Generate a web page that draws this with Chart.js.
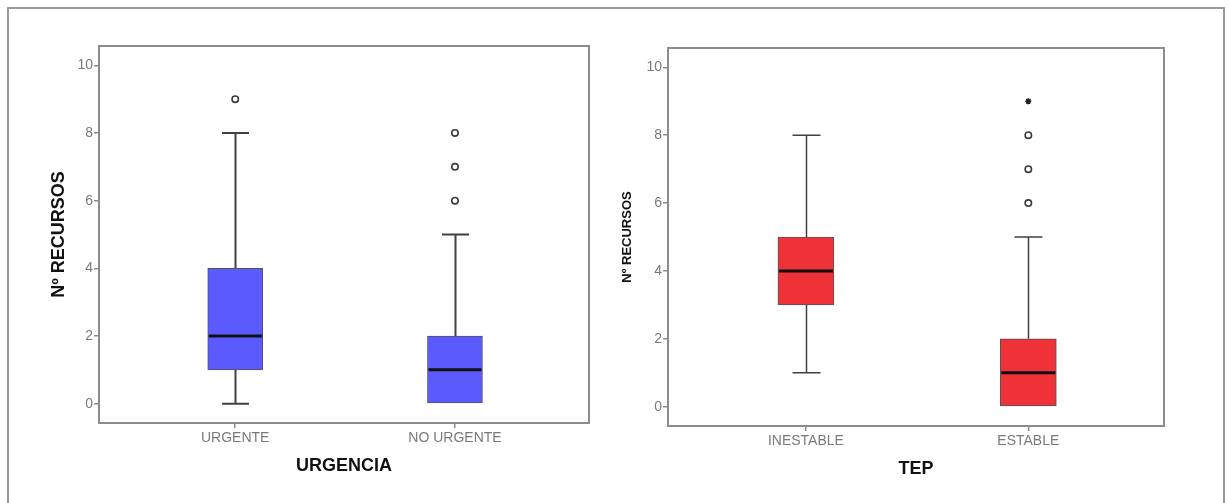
<!DOCTYPE html>
<html>
<head>
<meta charset="utf-8">
<script src="https://cdn.jsdelivr.net/npm/chart.js@4.4.0/dist/chart.umd.min.js"></script>
<style>
    html, body { margin: 0; padding: 0; background: #fff; }
    body { width: 1230px; height: 503px; overflow: hidden; position: relative; font-family: "Liberation Sans", Arial, sans-serif; }
    .marco { position: absolute; left: 7px; top: 7px; width: 1218px; height: 600px; border: 2px solid #9c9c9c; box-sizing: border-box; }
    canvas { position: absolute; top: 0; }
    #chartUrgencia { left: 0; }
    #chartTep { left: 610px; }
</style>
</head>
<body>
<div class="marco"></div>
<canvas id="chartUrgencia" width="610" height="503"></canvas>
<canvas id="chartTep" width="620" height="503"></canvas>

<script>
/* ===================================
   Diagramas de caja - Nº RECURSOS
   =================================== */

// --- URGENCIA ---
const categoriasUrgencia = ['URGENTE', 'NO URGENTE'];
const minUrgencia = [0, 0];
const q1Urgencia = [1, 0];
const medianaUrgencia = [2, 1];
const q3Urgencia = [4, 2];
const maxUrgencia = [8, 5];
const atipicosUrgencia = [[9], [6, 7, 8]];
const extremosUrgencia = [[], []];

// --- TEP ---
const categoriasTep = ['INESTABLE', 'ESTABLE'];
const minTep = [1, 0];
const q1Tep = [3, 0];
const medianaTep = [4, 1];
const q3Tep = [5, 2];
const maxTep = [8, 5];
const atipicosTep = [[], [6, 7, 8]];
const extremosTep = [[], [9]];

const ticksY = [0, 2, 4, 6, 8, 10];

const GRIS_TEXTO = '#7a7a7a';
const GRIS_EJE = '#8c8c8c';
const FUENTE = '"Liberation Sans", Arial, sans-serif';

// whiskers + caps (behind boxes), medians (on top), and the plot frame
const cajaPlugin = {
    id: 'cajaPlugin',
    beforeDatasetsDraw(chart) {
        const opts = chart.options.plugins.cajaPlugin;
        const { ctx, scales: { x, y } } = chart;
        ctx.save();
        ctx.strokeStyle = '#404040';
        ctx.lineWidth = opts.anchoBigote;
        opts.min.forEach((v, i) => {
            const px = Math.round(x.getPixelForValue(i)) + 0.5;
            const half = opts.anchoTope / 2;
            const pMin = y.getPixelForValue(opts.min[i]);
            const pQ1 = y.getPixelForValue(opts.q1[i]);
            const pQ3 = y.getPixelForValue(opts.q3[i]);
            const pMax = y.getPixelForValue(opts.max[i]);
            ctx.beginPath();
            ctx.moveTo(px, pQ3); ctx.lineTo(px, pMax);
            ctx.moveTo(px - half, pMax); ctx.lineTo(px + half, pMax);
            if (opts.min[i] < opts.q1[i]) {
                ctx.moveTo(px, pQ1); ctx.lineTo(px, pMin);
                ctx.moveTo(px - half, pMin); ctx.lineTo(px + half, pMin);
            }
            ctx.stroke();
        });
        ctx.restore();
    },
    afterDatasetsDraw(chart) {
        const opts = chart.options.plugins.cajaPlugin;
        const { ctx, chartArea, scales: { x, y } } = chart;
        ctx.save();
        ctx.strokeStyle = '#111';
        ctx.lineWidth = 3;
        opts.mediana.forEach((v, i) => {
            const px = x.getPixelForValue(i);
            const py = y.getPixelForValue(v);
            ctx.beginPath();
            ctx.moveTo(px - opts.anchoCaja / 2 + 1, py);
            ctx.lineTo(px + opts.anchoCaja / 2 - 1, py);
            ctx.stroke();
        });
        ctx.strokeStyle = GRIS_EJE;
        ctx.lineWidth = 2;
        ctx.strokeRect(chartArea.left, chartArea.top, chartArea.right - chartArea.left, chartArea.bottom - chartArea.top);
        ctx.restore();
    }
};

function puntos(lista) {
    const out = [];
    lista.forEach((vals, i) => vals.forEach(v => out.push({ x: i, y: v })));
    return out;
}

function crearCaja(id, d) {
    const ctx = document.getElementById(id);
    return new Chart(ctx, {
        type: 'bar',
        data: {
            datasets: [{
                data: d.categorias.map((c, i) => ({ x: i, y: [d.q1[i], d.q3[i]] })),
                backgroundColor: d.color,
                borderColor: '#555',
                borderWidth: 1,
                borderSkipped: false,
                barThickness: d.anchoCaja
            }, {
                type: 'line',
                data: puntos(d.atipicos),
                showLine: false,
                pointStyle: 'circle',
                pointRadius: 3.2,
                pointBorderWidth: 1.6,
                pointBorderColor: '#3a3a3a',
                pointBackgroundColor: '#fff'
            }, {
                type: 'line',
                data: puntos(d.extremos),
                showLine: false,
                pointStyle: 'star',
                pointRadius: 3,
                pointBorderWidth: 1.5,
                pointBorderColor: '#222'
            }]
        },
        options: {
            responsive: false,
            animation: false,
            layout: { padding: d.padding },
            plugins: {
                legend: { display: false },
                tooltip: { enabled: false },
                cajaPlugin: {
                    min: d.min, q1: d.q1, mediana: d.mediana, q3: d.q3, max: d.max,
                    anchoCaja: d.anchoCaja, anchoTope: d.anchoTope, anchoBigote: d.anchoBigote
                }
            },
            scales: {
                x: {
                    type: 'linear',
                    offset: false,
                    min: -0.62,
                    max: 1.61,
                    afterBuildTicks: (scale) => { scale.ticks = d.categorias.map((c, i) => ({ value: i })); },
                    afterFit: (scale) => { scale.height = d.altoX; },
                    ticks: {
                        callback: (value) => d.categorias[value],
                        color: GRIS_TEXTO,
                        font: { family: FUENTE, size: 14 },
                        padding: 2,
                        maxRotation: 0
                    },
                    grid: { offset: false, drawOnChartArea: false, tickLength: 5, color: GRIS_EJE, lineWidth: 1.5 },
                    border: { display: false },
                    title: {
                        display: true,
                        text: d.tituloX,
                        color: '#111',
                        font: { family: FUENTE, size: 18, weight: 'bold' },
                        padding: { top: 0, bottom: d.padTituloX }
                    }
                },
                y: {
                    min: -0.57,
                    max: 10.57,
                    afterBuildTicks: (scale) => { scale.ticks = ticksY.map(v => ({ value: v })); },
                    afterFit: (scale) => { scale.width = d.anchoY; },
                    ticks: {
                        color: GRIS_TEXTO,
                        font: { family: FUENTE, size: 14 },
                        padding: 1
                    },
                    grid: { drawOnChartArea: false, tickLength: 5, color: GRIS_EJE, lineWidth: 1.5 },
                    border: { display: false },
                    title: {
                        display: true,
                        text: 'Nº RECURSOS',
                        color: '#111',
                        font: { family: FUENTE, size: d.tamTituloY, weight: 'bold' },
                        padding: { top: d.padTituloY, bottom: 0 }
                    }
                }
            }
        },
        plugins: [cajaPlugin]
    });
}

crearCaja('chartUrgencia', {
    categorias: categoriasUrgencia,
    min: minUrgencia, q1: q1Urgencia, mediana: medianaUrgencia, q3: q3Urgencia, max: maxUrgencia,
    atipicos: atipicosUrgencia, extremos: extremosUrgencia,
    color: '#5a5aff',
    tituloX: 'URGENCIA',
    padding: { top: 46, right: 21, bottom: 0, left: 0 },
    anchoY: 99, altoX: 80,
    padTituloX: 26, padTituloY: 48, tamTituloY: 18,
    anchoCaja: 55, anchoTope: 27, anchoBigote: 2
});

crearCaja('chartTep', {
    categorias: categoriasTep,
    min: minTep, q1: q1Tep, mediana: medianaTep, q3: q3Tep, max: maxTep,
    atipicos: atipicosTep, extremos: extremosTep,
    color: '#ee3238',
    tituloX: 'TEP',
    padding: { top: 48, right: 66, bottom: 0, left: 0 },
    anchoY: 58, altoX: 77,
    padTituloX: 23, padTituloY: 10, tamTituloY: 13,
    anchoCaja: 56, anchoTope: 28, anchoBigote: 1.5
});
</script>
</body>
</html>
